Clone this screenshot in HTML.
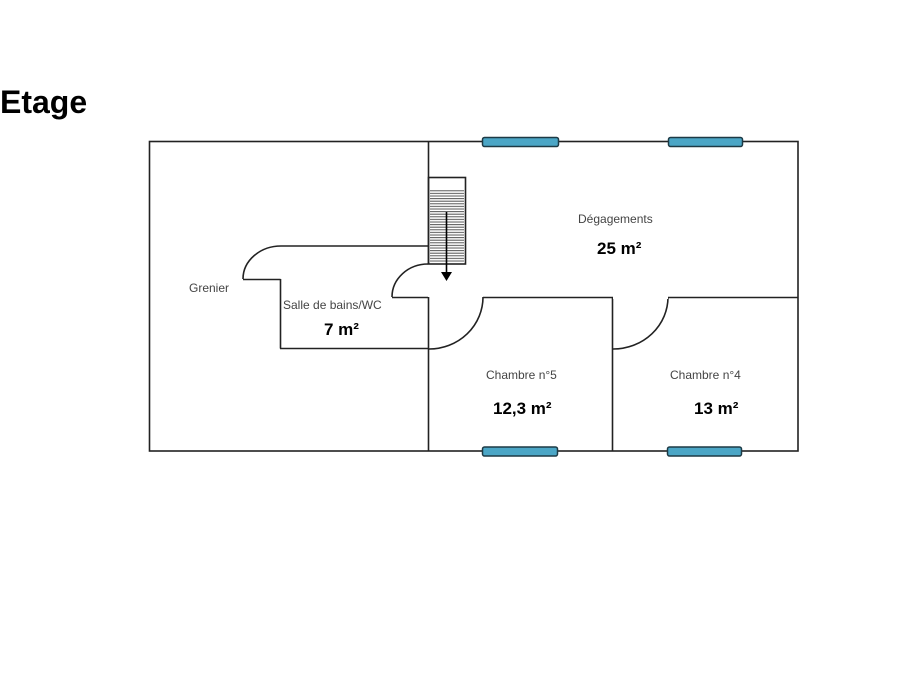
<!DOCTYPE html>
<html><head><meta charset="utf-8"><style>
html,body{margin:0;padding:0;background:#fff;width:902px;height:678px;overflow:hidden}
</style></head><body>
<svg width="902" height="678" xmlns="http://www.w3.org/2000/svg" style="position:absolute;left:0;top:0">
<defs>
<pattern id="h" width="4" height="2.6" patternUnits="userSpaceOnUse">
<line x1="0" y1="1" x2="4" y2="1" stroke="#555" stroke-width="1"/>
</pattern>
</defs>
<text x="0" y="113" font-family="Liberation Sans, sans-serif" font-weight="bold" font-size="32" fill="#000">Etage</text>
<g fill="none" stroke="#222" stroke-width="1.6">
<rect x="149.5" y="141.5" width="648.5" height="309.5"/>
<line x1="428.5" y1="141" x2="428.5" y2="264"/>
<line x1="428.5" y1="297" x2="428.5" y2="451"/>
<!-- stair -->
<rect x="428.5" y="177.5" width="37" height="86.5"/>
<!-- bathroom -->
<line x1="281" y1="246" x2="428" y2="246"/>
<path d="M281,246 A38,33 0 0 0 243,279"/>
<line x1="243" y1="279.5" x2="280.5" y2="279.5"/>
<line x1="280.5" y1="279" x2="280.5" y2="348.5"/>
<line x1="280" y1="348.5" x2="428" y2="348.5"/>
<line x1="392" y1="297.5" x2="428" y2="297.5"/>
<path d="M392,297 A36,33 0 0 1 428,264"/>
<!-- chambre 5 -->
<line x1="483" y1="297.5" x2="798" y2="297.5"/>
<path d="M483,297 A54,52 0 0 1 429,349"/>
<line x1="612.5" y1="297" x2="612.5" y2="451"/>
<path d="M668,297 A55,52 0 0 1 613,349"/>
</g>
<line x1="613" y1="297.5" x2="668" y2="297.5" stroke="#fff" stroke-width="3"/>
<rect x="430" y="189" width="34" height="74" fill="url(#h)"/>
<line x1="446.5" y1="212" x2="446.5" y2="273" stroke="#000" stroke-width="1.6"/>
<polygon points="441,272 452,272 446.5,281" fill="#000"/>
<g fill="#4ba6c6" stroke="#1d3a45" stroke-width="1.5">
<rect x="482.5" y="137.5" width="76" height="9" rx="2"/>
<rect x="668.5" y="137.5" width="74" height="9" rx="2"/>
<rect x="482.5" y="447" width="75" height="9" rx="2"/>
<rect x="667.5" y="447" width="74" height="9" rx="2"/>
</g>
<g font-family="Liberation Sans, sans-serif" font-size="12" fill="#444">
<text x="189" y="292">Grenier</text>
<text x="283" y="309">Salle de bains/WC</text>
<text x="578" y="223">Dégagements</text>
<text x="486" y="379">Chambre n°5</text>
<text x="670" y="379">Chambre n°4</text>
</g>
<g font-family="Liberation Sans, sans-serif" font-size="17" font-weight="bold" fill="#000">
<text x="324" y="335">7 m²</text>
<text x="597" y="254">25 m²</text>
<text x="493" y="414">12,3 m²</text>
<text x="694" y="414">13 m²</text>
</g>
</svg>
</body></html>
